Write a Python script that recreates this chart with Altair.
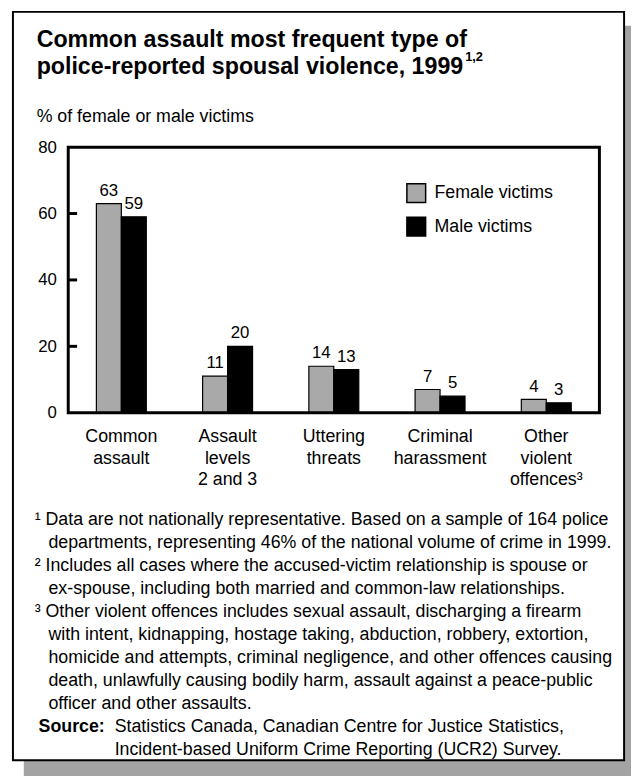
import altair as alt
import pandas as pd

categories = ["Common\nassault", "Assault\nlevels\n2 and 3", "Uttering\nthreats",
              "Criminal\nharassment", "Other\nviolent\noffences³"]
groups = ["Female victims", "Male victims"]
female = [63, 11, 14, 7, 4]
male = [59, 20, 13, 5, 3]
y_ticks = [0, 20, 40, 60, 80]
inner_ticks = [20, 40, 60]

title_lines = ["Common assault most frequent type of",
               "police-reported spousal violence, 1999"]
title_sup = "1,2"
y_title = "% of female or male victims"

fn_first = [
    "¹ Data are not nationally representative.  Based on a sample of 164 police",
    "² Includes all cases where the accused-victim relationship is spouse or",
    "³ Other violent offences includes sexual assault, discharging a firearm",
]
fn_cont = [
    ["departments, representing 46% of the national volume of crime in 1999."],
    ["ex-spouse, including both married and common-law relationships."],
    ["with intent, kidnapping, hostage taking, abduction, robbery, extortion,",
     "homicide and attempts, criminal negligence, and other offences causing",
     "death, unlawfully causing bodily harm, assault against a peace-public",
     "officer and other assaults."],
]
source_label = "Source:"
source_lines = ["Statistics Canada, Canadian Centre for Justice Statistics,",
                "Incident-based Uniform Crime Reporting (UCR2) Survey."]

rows = []
for c, f, m in zip(categories, female, male):
    rows.append({"category": c, "group": groups[0], "value": f})
    rows.append({"category": c, "group": groups[1], "value": m})
df = pd.DataFrame(rows)

FONT = "Liberation Sans"
W, H = 538, 269
FS = 18

xenc = alt.X("category:N", sort=categories,
             scale=alt.Scale(paddingInner=0.53, paddingOuter=0.265),
             axis=alt.Axis(title=None, labelAngle=0, domain=False, ticks=False, tickSize=0,
                           labelPadding=15, labelFontSize=FS, labelFont=FONT,
                           labelColor="black", labelBaseline="top", labelLineHeight=22,
                           labelExpr="split(datum.label, '\\n')", zindex=2))
yenc = alt.Y("value:Q", scale=alt.Scale(domain=[0, 80], nice=False),
             axis=alt.Axis(title=None, values=y_ticks, grid=False, domain=False,
                           ticks=False, tickSize=0, labelPadding=12, labelFontSize=17,
                           labelFont=FONT, labelColor="black", zindex=2))
color = alt.Color("group:N", sort=groups,
                  scale=alt.Scale(domain=groups, range=["#a9a9a9", "#000000"]),
                  legend=alt.Legend(title=None, orient="none", legendX=342, legendY=36,
                                    symbolType="square", symbolSize=361,
                                    symbolStrokeColor="black", symbolStrokeWidth=1.5,
                                    symbolOpacity=1, labelFontSize=FS, labelFont=FONT,
                                    labelColor="black", labelOffset=8, rowPadding=9,
                                    padding=0, zindex=2))
xoff = alt.XOffset("group:N", sort=groups)

one = alt.Data(values=[{"a": 1}])

shadow = alt.Chart(one).mark_rect(fill="#a3a3a3").encode(
    x=alt.value(-45), x2=alt.value(600), y=alt.value(-123), y2=alt.value(660))
box = alt.Chart(one).mark_rect(fill="white", stroke="black", strokeWidth=2).encode(
    x=alt.value(-56), x2=alt.value(563), y=alt.value(-137), y2=alt.value(621))

bars = alt.Chart(df).mark_bar(stroke="black", strokeWidth=1.2).encode(
    x=xenc, xOffset=xoff, y=yenc, color=color)
labels = alt.Chart(df).mark_text(baseline="bottom", dy=-4, fontSize=17, font=FONT,
                                 color="black").encode(
    x=alt.X("category:N", sort=categories), xOffset=xoff, y="value:Q",
    text="value:Q")

frame = alt.Chart(one).mark_rect(fillOpacity=0, stroke="black", strokeWidth=3).encode(
    x=alt.value(0), x2=alt.value(W), y=alt.value(0), y2=alt.value(H))
ticks = alt.Chart(pd.DataFrame({"t": inner_ticks})).mark_rule(
    color="black", strokeWidth=3).encode(
    x=alt.value(0), x2=alt.value(9), y=alt.Y("t:Q"))

texts = []
TFS = 23.5
texts.append(alt.Chart(one).mark_text(text=title_lines[0], fontSize=TFS, fontWeight="bold",
                                      font=FONT, align="left", baseline="middle",
                                      color="black").encode(
    x=alt.value(-32), y=alt.value(-108)))
texts.append(alt.Chart(one).mark_text(text=title_lines[1], fontSize=TFS, fontWeight="bold",
                                      font=FONT, align="left", baseline="middle",
                                      color="black").encode(
    x=alt.value(-32), y=alt.value(-81)))
texts.append(alt.Chart(one).mark_text(text=title_sup, fontSize=13, fontWeight="bold",
                                      font=FONT, align="left", baseline="middle",
                                      color="black").encode(
    x=alt.value(402), y=alt.value(-91)))
texts.append(alt.Chart(one).mark_text(text=y_title, fontSize=FS, font=FONT, align="left",
                                      baseline="middle", color="black").encode(
    x=alt.value(-32), y=alt.value(-30)))

LH = 23.3
y0 = 378
line_i = 0
for first, cont in zip(fn_first, fn_cont):
    texts.append(alt.Chart(one).mark_text(text=first, fontSize=FS, font=FONT, align="left",
                                          baseline="middle", color="black").encode(
        x=alt.value(-34), y=alt.value(y0 + LH * line_i)))
    line_i += 1
    for ln in cont:
        texts.append(alt.Chart(one).mark_text(text=ln, fontSize=FS, font=FONT,
                                              align="left", baseline="middle",
                                              color="black").encode(
            x=alt.value(-20), y=alt.value(y0 + LH * line_i)))
        line_i += 1

texts.append(alt.Chart(one).mark_text(text=source_label, fontSize=FS, fontWeight="bold",
                                      font=FONT, align="left", baseline="middle",
                                      color="black").encode(
    x=alt.value(-30), y=alt.value(y0 + LH * line_i)))
for ln in source_lines:
    texts.append(alt.Chart(one).mark_text(text=ln, fontSize=FS, font=FONT, align="left",
                                          baseline="middle", color="black").encode(
        x=alt.value(47), y=alt.value(y0 + LH * line_i)))
    line_i += 1

chart = alt.layer(shadow, box, bars, labels, frame, ticks, *texts).properties(
    width=W, height=H,
    padding={"left": 61, "top": 136, "right": 32, "bottom": 363},
    autosize=alt.AutoSizeParams(type="none"),
    background="white",
).configure_view(stroke=None)

chart.save("out.html", embed_options={"renderer": "svg", "actions": False})
